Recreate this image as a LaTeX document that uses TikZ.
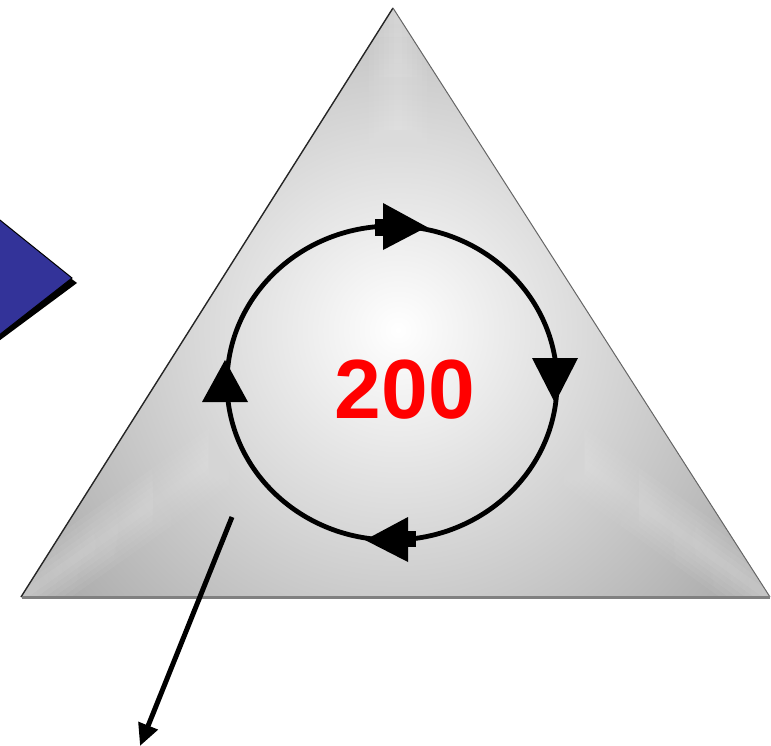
\documentclass[tikz,border=0pt]{standalone}
\usepackage{fontspec}
\setmainfont{Liberation Sans}
\usetikzlibrary{arrows.meta,fadings}
\definecolor{bluefill}{RGB}{51,51,153}
\definecolor{basegray}{RGB}{128,128,128}
\definecolor{trigray}{RGB}{170,170,170}
\tikzset{
  cycleline/.style={line width=4.8pt, black},
  headfill/.style={fill=black},
  pointer/.style={line width=5pt, -{Triangle[length=22pt,width=20pt]}},
  ridgeband/.style={fill=white, opacity=0.07},
}
\begin{document}
\begin{tikzpicture}[x=1pt,y=-1pt]
\useasboundingbox (0,0) rectangle (771,746);
% blue shape with shadow
\fill[black] (-20,209) -- (77,283) -- (-20,355) -- cycle;
\fill[bluefill, draw=black, line width=1pt] (-20,204) -- (72,278) -- (-20,350) -- cycle;
% triangle
\coordinate (A) at (393,8);
\coordinate (B) at (21,597);
\coordinate (C) at (770,597);
\coordinate (M) at (398,330);
\fill[trigray] (A) -- (B) -- (C) -- cycle;
\begin{scope}
  \clip (A) -- (B) -- (C) -- cycle;
  \shade[inner color=white, outer color=trigray] (M) circle (440);
  \foreach \w in {4,9,14,19,24,29} {
    \begin{scope}[shift={(M)}, rotate=90]
      \fill[ridgeband, path fading=south] (100,-\w) rectangle (340,\w);
    \end{scope}
    \begin{scope}[shift={(M)}, rotate=215.3]
      \fill[ridgeband, path fading=east] (100,-\w) rectangle (480,\w);
    \end{scope}
    \begin{scope}[shift={(M)}, rotate=-35.7]
      \fill[ridgeband, path fading=west] (100,-\w) rectangle (470,\w);
    \end{scope}
  }
\end{scope}
\draw[white, line width=1.5pt] ([xshift=-2pt]A) -- ([xshift=-2pt]B);
\draw[black!85, line width=1.4pt] (A) -- (B);
\draw[black!60, line width=1pt] (A) -- (C);
\draw[basegray, line width=3pt] ([xshift=1pt]B) -- (C);
% cycle
\draw[cycleline] (392,383) ellipse [x radius=165, y radius=157];
% arrowheads
\fill[headfill] (383,203) -- (427,227) -- (383,250) -- cycle;
\fill[headfill] (375,219) rectangle (384,236);
\fill[headfill] (532,358) -- (578,358) -- (555,403) -- cycle;
\fill[headfill] (408,517) -- (365,540) -- (408,562) -- cycle;
\fill[headfill] (407,531) rectangle (416,547);
\fill[headfill] (225,360) -- (248,402) -- (202,402) -- cycle;
% label
\node[text=red, font=\bfseries\fontsize{84}{90}\selectfont, inner sep=0pt] (val) at (405,390) {200};
% pointer
\coordinate (ps) at (232,517);
\coordinate (pe) at (140,746);
\draw[pointer] (ps) -- (pe);
\end{tikzpicture}
\end{document}
